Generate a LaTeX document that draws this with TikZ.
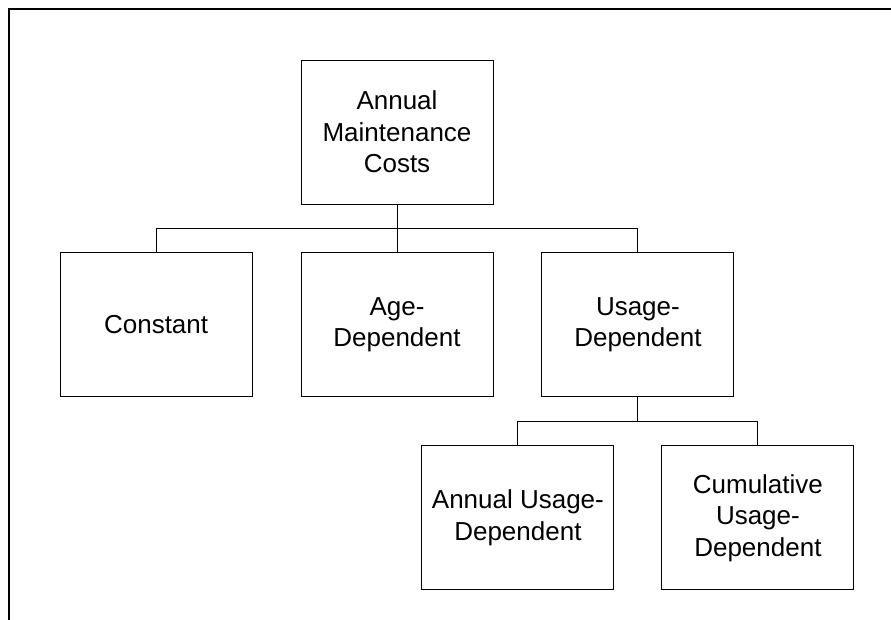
\documentclass[tikz,border=0pt]{standalone}
\usepackage{fontspec}
\setmainfont{Liberation Sans}
\usetikzlibrary{positioning}

\begin{document}
\begin{tikzpicture}[x=1pt, y=1pt, font=\fontsize{26}{31.5}\selectfont, node distance=48pt,
    box/.style={draw, line width=0.9pt, align=center, minimum width=192pt, minimum height=144pt, inner sep=0pt}]
    \useasboundingbox (0,0) rectangle (891,-620);
    % outer frame, cut at the page edge
    \draw[line width=2pt] (891,-9) -- (9,-9) -- (9,-620);

    \node[box] (root) at (397,-132) {Annual\\ Maintenance\\ Costs};
    \node[box, below=of root] (age) {Age-\\ Dependent};
    \node[box, left=of age] (const) {Constant};
    \node[box, right=of age] (usage) {Usage-\\ Dependent};
    \node[box, below=of usage, xshift=-120pt] (annual) {Annual Usage-\\ Dependent};
    \node[box, below=of usage, xshift=120pt] (cumul) {Cumulative\\ Usage-\\ Dependent};

    \draw[line width=0.9pt] (root.south) -- ++(0,-24) coordinate (top);
    \draw[line width=0.9pt] (const.north) |- (top) -| (usage.north);
    \draw[line width=0.9pt] (top) -- (age.north);
    \draw[line width=0.9pt] (usage.south) -- ++(0,-24) coordinate (low);
    \draw[line width=0.9pt] (annual.north) |- (low) -| (cumul.north);
  \end{tikzpicture}
\end{document}
